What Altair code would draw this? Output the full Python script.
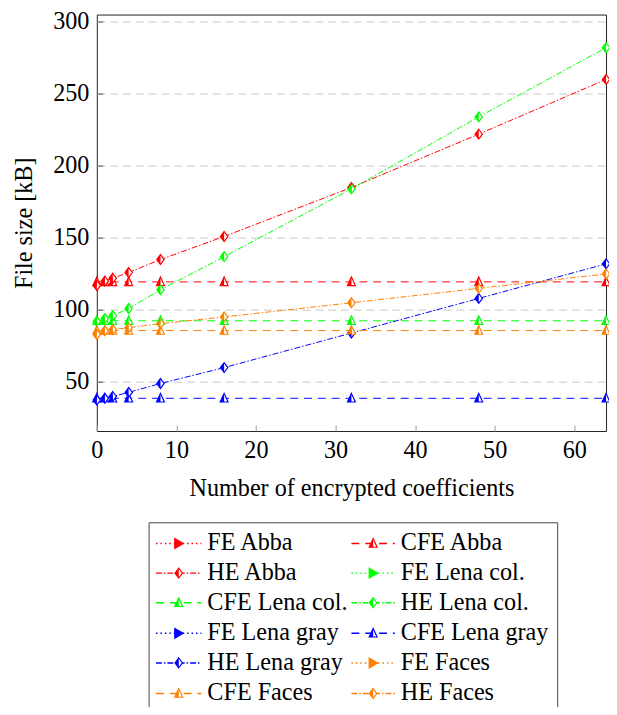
import altair as alt
import pandas as pd

# ---------------- data ----------------
X = [0, 1, 2, 4, 8, 16, 32, 48, 64]

HE_ABBA = [117, 120, 122, 126, 135, 151, 185, 222, 260]
HE_LENA_COL = [92, 94, 96, 101, 114, 137, 184, 234, 282]
HE_LENA_GRAY = [37.5, 38.7, 40, 42.8, 49, 60, 84, 108, 132]
HE_FACES = [83, 85.5, 86.4, 87.7, 90.5, 95.2, 105, 115, 125]

CFE_ABBA = [119.5, 119.5, 119.5, 119.5, 119.5, 119.5, 119.5, 119.5, 119.5]
CFE_LENA_COL = [92.5, 92.5, 92.5, 92.5, 92.5, 92.5, 92.5, 92.5, 92.5]
CFE_LENA_GRAY = [38.7, 38.7, 38.7, 38.7, 38.7, 38.7, 38.7, 38.7, 38.7]
CFE_FACES = [85.7, 85.7, 85.7, 85.7, 85.7, 85.7, 85.7, 85.7, 85.7]

# FE series appear only in the legend (no visible points in the plot)
FE_ABBA = []
FE_LENA_COL = []
FE_LENA_GRAY = []
FE_FACES = []

X_TICKS = [0, 10, 20, 30, 40, 50, 60]
Y_TICKS = [50, 100, 150, 200, 250, 300]

RED, GREEN, BLUE, ORANGE = "#ff0000", "#00ff00", "#0000ff", "#ff8000"

SERIES = [
    ("FE Abba", "FE", RED, FE_ABBA),
    ("CFE Abba", "CFE", RED, CFE_ABBA),
    ("HE Abba", "HE", RED, HE_ABBA),
    ("FE Lena col.", "FE", GREEN, FE_LENA_COL),
    ("CFE Lena col.", "CFE", GREEN, CFE_LENA_COL),
    ("HE Lena col.", "HE", GREEN, HE_LENA_COL),
    ("FE Lena gray", "FE", BLUE, FE_LENA_GRAY),
    ("CFE Lena gray", "CFE", BLUE, CFE_LENA_GRAY),
    ("HE Lena gray", "HE", BLUE, HE_LENA_GRAY),
    ("FE Faces", "FE", ORANGE, FE_FACES),
    ("CFE Faces", "CFE", ORANGE, CFE_FACES),
    ("HE Faces", "HE", ORANGE, HE_FACES),
]

# legend layout (2 columns, 6 rows), in legend-scale units
LEG_COL_LINE_X0 = [60, 258]
LEG_COL_LINE_X1 = [106, 302]
LEG_COL_MARK_X = [83, 280]
LEG_COL_TEXT_X = [112, 308]
LEG_ROW_Y = [536, 566, 596, 627, 657, 688]
LEG_BOX = dict(x=53, x2=467, y=515, y2=720)

FONT = "Liberation Serif"
FS = 24.5

# ---------------- styles ----------------
STYLES = ["FE", "CFE", "HE"]
DASHES = [[1.5, 3], [8, 6], [6, 2, 1.5, 2]]
OUTLINE = [
    "M-0.8,-1L0.9,0L-0.8,1Z",
    "M0,-1L0.8,0.75L-0.8,0.75Z",
    "M0,-1L0.75,0L0,1L-0.75,0Z",
]
HALF = [
    "M-0.8,-1L0.9,0L-0.8,1Z",
    "M0,-1L0,0.75L-0.8,0.75Z",
    "M0,-1L-0.75,0L0,1Z",
]
SIZES = [100, 100, 160]

rows = []
for name, style, color, vals in SERIES:
    for xv, yv in zip(X, vals):
        rows.append({"series": name, "style": style, "color": color, "x": xv, "y": yv})
df = pd.DataFrame(rows)

leg_rows = []
for i, (name, style, color, _) in enumerate(SERIES):
    r, c = divmod(i, 2)
    leg_rows.append({
        "series": name, "style": style, "color": color,
        "x0": LEG_COL_LINE_X0[c], "x1": LEG_COL_LINE_X1[c],
        "xm": LEG_COL_MARK_X[c], "xt": LEG_COL_TEXT_X[c], "y": LEG_ROW_Y[r],
    })
leg = pd.DataFrame(leg_rows)

dash_scale = alt.Scale(domain=STYLES, range=DASHES)
outline_scale = alt.Scale(domain=STYLES, range=OUTLINE)
half_scale = alt.Scale(domain=STYLES, range=HALF)
size_scale = alt.Scale(domain=STYLES, range=SIZES)

xs = alt.Scale(domain=[0, 64], nice=False, zero=False)
ys = alt.Scale(domain=[16, 305], nice=False, zero=False)

x_axis = alt.Axis(
    values=X_TICKS, grid=False, domain=False, offset=-6, tickSize=6,
    tickColor="#999999", labelFont=FONT, labelFontSize=FS, labelColor="black",
    labelPadding=8, title="Number of encrypted coefficients", titleFont=FONT,
    titleFontSize=FS, titleFontWeight="normal", titleColor="black", titlePadding=15,
    labelFlush=False,
)
y_axis = alt.Axis(
    values=Y_TICKS, grid=True, gridDash=[8, 5], gridColor="#c8c8c8", gridWidth=1,
    domain=False, offset=-6, tickSize=6, tickColor="#555555",
    labelFont=FONT, labelFontSize=FS, labelColor="black", labelPadding=8,
    title="File size [kB]", titleFont=FONT, titleFontSize=FS,
    titleFontWeight="normal", titleColor="black", titlePadding=16,
)

base = alt.Chart(df)

lines = base.mark_line(strokeWidth=1).encode(
    x=alt.X("x:Q", scale=xs, axis=x_axis),
    y=alt.Y("y:Q", scale=ys, axis=y_axis),
    detail="series:N",
    order="x:Q",
    stroke=alt.Stroke("color:N", scale=None),
    strokeDash=alt.StrokeDash("style:N", scale=dash_scale, legend=None),
)
pts_outline = base.mark_point(filled=True, opacity=1, strokeWidth=1.2).encode(
    x=alt.X("x:Q", scale=xs),
    y=alt.Y("y:Q", scale=ys),
    shape=alt.Shape("style:N", scale=outline_scale, legend=None),
    size=alt.Size("style:N", scale=size_scale, legend=None),
    stroke=alt.Stroke("color:N", scale=None),
    fill=alt.value("white"),
)
pts_half = base.mark_point(filled=True, opacity=1, strokeWidth=0).encode(
    x=alt.X("x:Q", scale=xs),
    y=alt.Y("y:Q", scale=ys),
    shape=alt.Shape("style:N", scale=half_scale, legend=None),
    size=alt.Size("style:N", scale=size_scale, legend=None),
    fill=alt.Fill("color:N", scale=None),
)
main = alt.layer(lines, pts_outline, pts_half).resolve_scale(shape="independent")

# ---------------- legend ----------------
lxs = alt.Scale(domain=[0, 516], nice=False, zero=False)
lys = alt.Scale(domain=[0, 422], nice=False, zero=False, reverse=True)

box_df = pd.DataFrame([LEG_BOX])
box = alt.Chart(box_df).mark_rect(fill="white", stroke="#444444", strokeWidth=1).encode(
    x=alt.X("x:Q", scale=lxs, axis=None),
    x2="x2:Q",
    y=alt.Y("y:Q", scale=lys, axis=None),
    y2="y2:Q",
)
lb = alt.Chart(leg)
leg_lines = lb.mark_rule(strokeWidth=1.5).encode(
    x=alt.X("x0:Q", scale=lxs, axis=None),
    x2="x1:Q",
    y=alt.Y("y:Q", scale=lys, axis=None),
    stroke=alt.Stroke("color:N", scale=None),
    strokeDash=alt.StrokeDash("style:N", scale=dash_scale, legend=None),
)
leg_outline = lb.mark_point(filled=True, opacity=1, strokeWidth=1.2).encode(
    x=alt.X("xm:Q", scale=lxs, axis=None),
    y=alt.Y("y:Q", scale=lys, axis=None),
    shape=alt.Shape("style:N", scale=outline_scale, legend=None),
    size=alt.Size("style:N", scale=size_scale, legend=None),
    stroke=alt.Stroke("color:N", scale=None),
    fill=alt.value("white"),
)
leg_half = lb.mark_point(filled=True, opacity=1, strokeWidth=0).encode(
    x=alt.X("xm:Q", scale=lxs, axis=None),
    y=alt.Y("y:Q", scale=lys, axis=None),
    shape=alt.Shape("style:N", scale=half_scale, legend=None),
    size=alt.Size("style:N", scale=size_scale, legend=None),
    fill=alt.Fill("color:N", scale=None),
)
leg_text = lb.mark_text(align="left", baseline="middle", font=FONT, fontSize=FS, color="black").encode(
    x=alt.X("xt:Q", scale=lxs, axis=None),
    y=alt.Y("y:Q", scale=lys, axis=None),
    text="series:N",
)
legend = alt.layer(box, leg_lines, leg_outline, leg_half, leg_text).resolve_scale(shape="independent")

chart = (
    alt.layer(main, legend)
    .resolve_scale(x="independent", y="independent", stroke="independent",
                   fill="independent", shape="independent", size="independent",
                   strokeDash="independent")
    .properties(
        width=516, height=422,
        autosize=alt.AutoSizeParams(type="none"),
        padding={"left": 90, "top": 2, "right": 3, "bottom": 275},
        background="white",
    )
    .configure_view(stroke="#222222", strokeWidth=1)
)

chart.save("out.html", embed_options={"renderer": "svg", "actions": False})
